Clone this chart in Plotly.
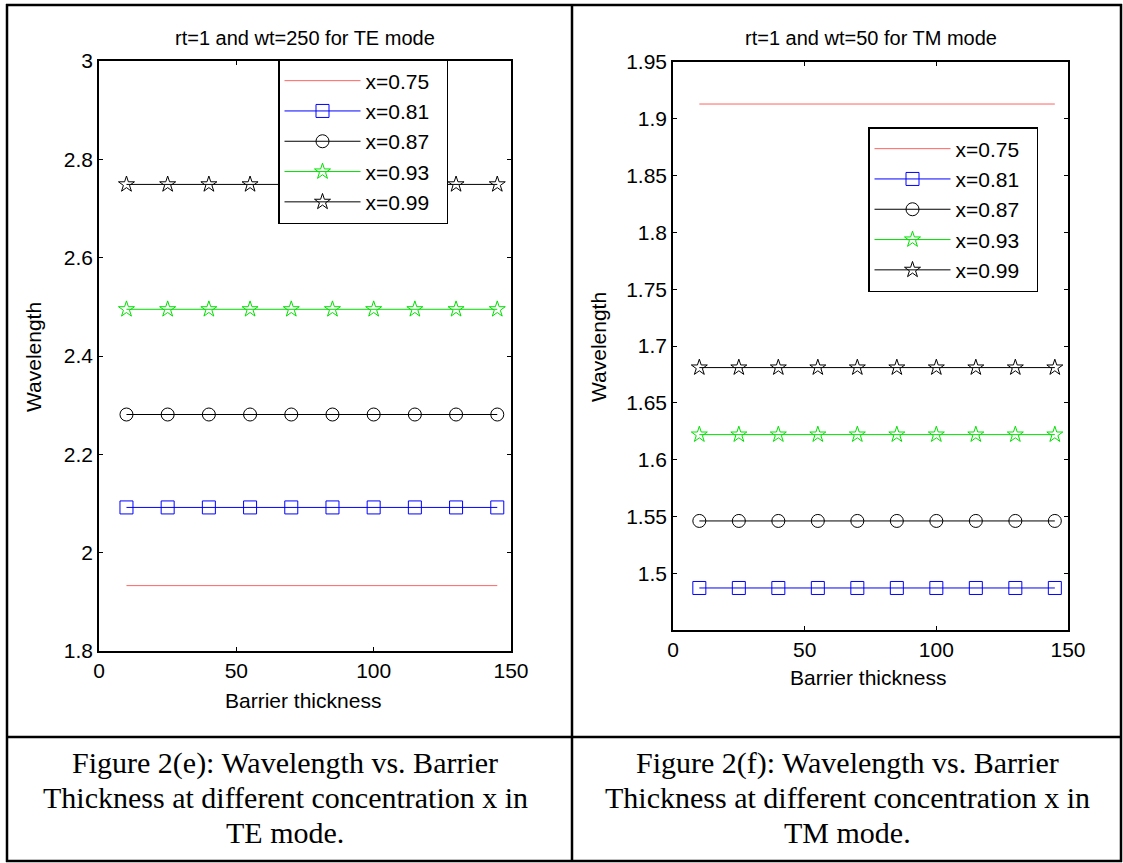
import plotly.graph_objects as go

W, H = 1123, 863

# ---------------- data ----------------
barrier = [10, 25, 40, 55, 70, 85, 100, 115, 130, 145]
series_names = ["x=0.75", "x=0.81", "x=0.87", "x=0.93", "x=0.99"]

te_values = [1.933, 2.092, 2.281, 2.495, 2.749]   # TE mode, wt=250
tm_values = [1.913, 1.487, 1.546, 1.622, 1.681]   # TM mode, wt=50

te_yticks = [1.8, 2.0, 2.2, 2.4, 2.6, 2.8, 3.0]
te_yticktext = ["1.8", "2", "2.2", "2.4", "2.6", "2.8", "3"]
tm_yticks = [1.45, 1.5, 1.55, 1.6, 1.65, 1.7, 1.75, 1.8, 1.85, 1.9, 1.95]
tm_yticktext = ["", "1.5", "1.55", "1.6", "1.65", "1.7", "1.75", "1.8", "1.85", "1.9", "1.95"]
xticks = [0, 50, 100, 150]

title_te = "rt=1 and wt=250 for TE mode"
title_tm = "rt=1 and wt=50 for TM mode"
cap_te = ["Figure 2(e): Wavelength vs. Barrier",
          "Thickness at different concentration x in",
          "TE mode."]
cap_tm = ["Figure 2(f): Wavelength vs. Barrier",
          "Thickness at different concentration x in",
          "TM mode."]

# ---------------- styles ----------------
colors = ["rgb(255,100,100)", "#0000ff", "#000000", "#00e000", "#000000"]
symbols = [None, "square-open", "circle-open", "star-open", "star-open"]
sizes = [0, 13, 13, 12, 12]

FONT = "Arial, Liberation Sans, sans-serif"
PAD = "\u00a0\u00a0"

def px_x(p):
    return p / W

def px_y(p):
    return 1 - p / H

# axes pixel boxes
L = dict(x0=99, x1=511, y0=61, y1=651)
R = dict(x0=673, x1=1068, y0=62, y1=630)

fig = go.Figure()

def add_series(values, xa, ya, legend):
    for i, (name, v) in enumerate(zip(series_names, values)):
        ys = [v] * len(barrier)
        mode = "lines" if symbols[i] is None else "lines+markers"
        marker = None if symbols[i] is None else dict(
            symbol=symbols[i], size=sizes[i], color=colors[i],
            line=dict(width=1, color=colors[i]))
        fig.add_trace(go.Scatter(
            x=barrier, y=ys, name=name + PAD, mode=mode,
            line=dict(color=colors[i], width=1),
            marker=marker, xaxis=xa, yaxis=ya, legend=legend,
            legendgroup=legend + name, showlegend=True))

add_series(te_values, "x", "y", "legend")
add_series(tm_values, "x2", "y2", "legend2")

axis_common = dict(
    showgrid=False, zeroline=False, showline=True, linecolor="black",
    linewidth=1.5, mirror="allticks", ticks="inside", ticklen=4,
    tickcolor="black", tickfont=dict(family=FONT, size=21, color="black"),
)

legend_common = dict(
    xanchor="left", yanchor="top",
    bgcolor="white", bordercolor="black", borderwidth=1.5,
    font=dict(family=FONT, size=21, color="black"),
    itemwidth=76, tracegroupgap=2, traceorder="normal",
)

fig.update_layout(
    width=W, height=H,
    margin=dict(l=0, r=0, t=0, b=0, autoexpand=False),
    paper_bgcolor="white", plot_bgcolor="white",
    font=dict(family=FONT, color="black"),
    xaxis=dict(domain=[px_x(L["x0"]), px_x(L["x1"])], range=[0, 150],
               tickvals=xticks, anchor="y", **axis_common),
    yaxis=dict(domain=[px_y(L["y1"]), px_y(L["y0"])], range=[1.8, 3.0],
               tickvals=te_yticks, ticktext=te_yticktext, anchor="x",
               **axis_common),
    xaxis2=dict(domain=[px_x(R["x0"]), px_x(R["x1"])], range=[0, 150],
                tickvals=xticks, anchor="y2", **axis_common),
    yaxis2=dict(domain=[px_y(R["y1"]), px_y(R["y0"])], range=[1.45, 1.95],
                tickvals=tm_yticks, ticktext=tm_yticktext, anchor="x2",
                **axis_common),
    legend=dict(x=px_x(278), y=px_y(59), **legend_common),
    legend2=dict(x=px_x(868), y=px_y(127), **legend_common),
    showlegend=True,
)

# ---------------- text annotations ----------------
ann = []
def text(x, y, s, size, family=FONT, angle=0):
    ann.append(dict(x=px_x(x), y=px_y(y), xref="paper", yref="paper",
                    text=s, showarrow=False, textangle=angle,
                    xanchor="center", yanchor="middle",
                    font=dict(family=family, size=size, color="black")))

text((L["x0"] + L["x1"]) / 2, 38, title_te, 20)
text((R["x0"] + R["x1"]) / 2, 38, title_tm, 20)
text(33, 357, "Wavelength", 21, angle=-90)
text(598, 347, "Wavelength", 21, angle=-90)
text(303, 700, "Barrier thickness", 21)
text(868, 677, "Barrier thickness", 21)

SERIF = "Liberation Serif, Times New Roman, serif"
for k, line in enumerate(cap_te):
    text(285, 763 + 34.5 * k, line, 30, family=SERIF)
for k, line in enumerate(cap_tm):
    text(847, 763 + 34.5 * k, line, 30, family=SERIF)

fig.update_layout(annotations=ann)

# ---------------- table borders ----------------
shapes = []
def hline(x0, x1, y, w=2.5):
    shapes.append(dict(type="line", xref="paper", yref="paper",
                       x0=px_x(x0), x1=px_x(x1), y0=px_y(y), y1=px_y(y),
                       line=dict(color="black", width=w)))
def vline(x, y0, y1, w=2.5):
    shapes.append(dict(type="line", xref="paper", yref="paper",
                       x0=px_x(x), x1=px_x(x), y0=px_y(y0), y1=px_y(y1),
                       line=dict(color="black", width=w)))

hline(6, 1122, 5)
hline(6, 1122, 737)
hline(6, 1122, 861)
vline(7, 4, 862)
vline(572, 4, 862)
vline(1121, 4, 862)
fig.update_layout(shapes=shapes)

fig.write_html("out.html")
